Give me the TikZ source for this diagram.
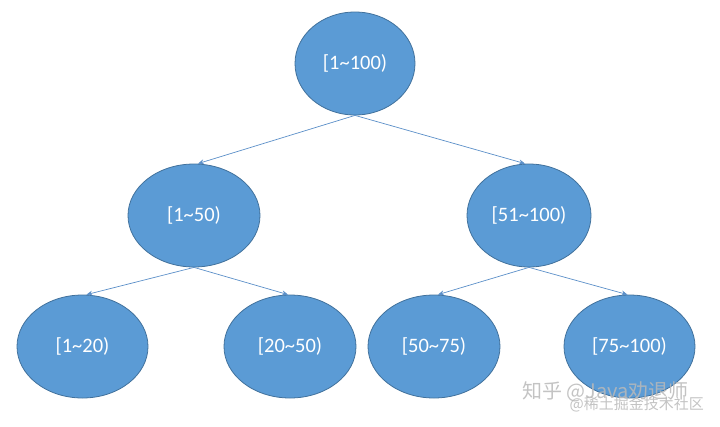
\documentclass[tikz,border=0pt]{standalone}
\usepackage{fontspec}
\setmainfont{Carlito}
\newfontfamily\cjkfont{Noto Sans CJK SC}
\usetikzlibrary{shapes.geometric,arrows.meta}
\definecolor{nodefill}{HTML}{5B9BD5}
\definecolor{nodeedge}{HTML}{41719C}
\definecolor{linkcol}{HTML}{5B8FC8}
\tikzset{
  treenode/.style={ellipse, fill=nodefill, draw=nodeedge, line width=0.8pt,
    minimum width=130pt, minimum height=103pt, inner sep=0pt,
    text=white, font=\fontsize{20.5}{24}\selectfont},
  link/.style={draw=linkcol, line width=0.7pt, -{Stealth[length=6pt,width=5pt]}},
  wmark/.style={text=gray!55, opacity=0.85, inner sep=0pt}
}
\begin{document}
\begin{tikzpicture}[x=1pt,y=-1pt]
\useasboundingbox (0,0) rectangle (720,426);
\node[treenode, minimum width=120pt] (r) at (355,63.5) {[1\textasciitilde100)};
\node[treenode, minimum width=132pt] (a) at (194,215.5) {[1\textasciitilde50)};
\node[treenode, minimum width=124pt] (b) at (529,215.5) {[51\textasciitilde100)};
\node[treenode, minimum width=131pt] (a1) at (82.5,346.5) {[1\textasciitilde20)};
\node[treenode, minimum width=132pt] (a2) at (290,346.5) {[20\textasciitilde50)};
\node[treenode, minimum width=132pt] (b1) at (434,346.5) {[50\textasciitilde75)};
\node[treenode, minimum width=131pt] (b2) at (629.5,346.5) {[75\textasciitilde100)};
\draw[link] (r.south) -- ([xshift=4pt]a.north);
\draw[link] (r.south) -- ([xshift=-4pt]b.north);
\draw[link] (a.south) -- ([xshift=4pt]a1.north);
\draw[link] (a.south) -- ([xshift=-2pt]a2.north);
\draw[link] (b.south) -- ([xshift=4pt]b1.north);
\draw[link] (b.south) -- ([xshift=-2pt]b2.north);
\node[wmark, anchor=west, font=\cjkfont\fontsize{20}{22}\selectfont] (w1) at (522,392) {知乎 @Java劝退师};
\node[wmark, anchor=east, font=\cjkfont\fontsize{15}{17}\selectfont] (w2) at (704,404) {@稀土掘金技术社区};
\end{tikzpicture}
\end{document}
